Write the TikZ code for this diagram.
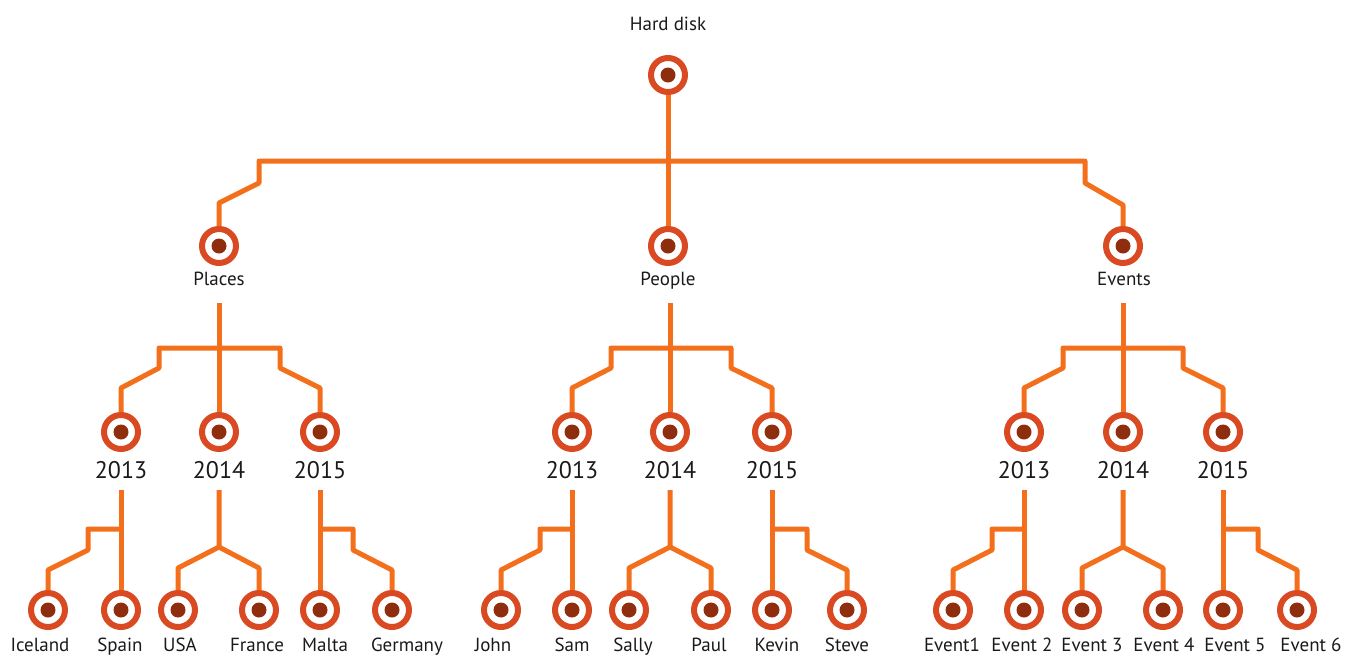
\documentclass[tikz,border=0pt]{standalone}
\usepackage{fontspec}
\setmainfont{PT Sans}
\definecolor{lineor}{HTML}{F36F1C}
\definecolor{ringor}{HTML}{DA4A22}
\definecolor{dotbr}{HTML}{8E2E0E}
\definecolor{txt}{HTML}{1A1A1A}
\tikzset{
  dotnode/.style={circle, draw=ringor, line width=6pt, minimum size=34pt, inner sep=0pt, fill=white,
    path picture={\fill[dotbr] (path picture bounding box.center) circle (7.5pt);}},
  conn/.style={draw=lineor, line width=5pt, line join=round},
  lbl/.style={anchor=base, inner sep=0pt, text=txt, font=\fontsize{19}{21}\selectfont},
  yr/.style={anchor=base, inner sep=0pt, text=txt, font=\fontsize{24}{26}\selectfont},
}
\begin{document}
\begin{tikzpicture}[x=1pt, y=-1pt]
\useasboundingbox (0,0) rectangle (1357,657);
% ---- level 0 and 1
\node[dotnode] (hd) at (668,75) {};
\node[lbl] (hdL) at (668,30) {Hard disk};
\node[dotnode] (plc) at (219,246) {};
\node[lbl] (plcL) at (219,285) {Places};
\node[dotnode] (ppl) at (668,246) {};
\node[lbl] (pplL) at (668,285) {People};
\node[dotnode] (evt) at (1123,246) {};
\node[lbl] (evtL) at (1124,285) {Events};
% ---- years
\foreach \n/\x/\t in {p13/121/2013, p14/219/2014, p15/320/2015,
                      q13/572/2013, q14/670/2014, q15/772/2015,
                      e13/1024/2013, e14/1123/2014, e15/1223/2015}{
  \node[dotnode] (\n) at (\x,432) {};
  \node[yr] (\n L) at (\x,478) {\t};
  \coordinate (\n s) at (\x,490);
}
% ---- leaves
\foreach \n/\x/\lx/\t in {
   pa/48/40/Iceland, pb/121/120/Spain, pc/178/180/USA, pd/259/257/France, pe/320/325/Malta, pf/392/407/Germany,
   qa/501/493/John, qb/572/572/Sam, qc/629/633/Sally, qd/711/709/Paul, qe/772/777/Kevin, qf/847/847/Steve,
   ea/953/952/Event1, eb/1024/1022/Event 2, ec/1082/1092/Event 3, ed/1163/1164/Event 4, ee/1223/1235/Event 5, ef/1297/1311/Event 6}{
  \node[dotnode] (\n) at (\x,610) {};
  \node[lbl] (\n L) at (\lx,651) {\t};
}
% ---- top connectors
\draw[conn] (hd.south) -- (ppl.north);
\draw[conn] (plc.north) -- (219,203) -- (259,183) -- (259,161) -- (1085,161) -- (1085,183) -- (1123,205) -- (evt.north);
% ---- level 2 connectors
\coordinate (plcs) at (219,303);
\coordinate (ppls) at (670,303);
\coordinate (evts) at (1123,303);
\draw[conn] (plcs) -- (p14.north);
\draw[conn] (p13.north) -- (121,388) -- (159,368) -- (159,348) -- (280,348) -- (280,368) -- (320,388) -- (p15.north);
\draw[conn] (ppls) -- (q14.north);
\draw[conn] (q13.north) -- (572,388) -- (611,368) -- (611,348) -- (731,348) -- (731,368) -- (772,388) -- (q15.north);
\draw[conn] (evts) -- (e14.north);
\draw[conn] (e13.north) -- (1024,388) -- (1063,368) -- (1063,348) -- (1183,348) -- (1183,368) -- (1223,388) -- (e15.north);
% ---- level 3 connectors: Places
\draw[conn] (p13s) -- (pb.north);
\draw[conn] (121,529) -- (88,529) -- (88,550) -- (48,570) -- (pa.north);
\draw[conn] (p14s) -- (219,547) -- (178,568) -- (pc.north);
\draw[conn] (219,547) -- (259,568) -- (pd.north);
\draw[conn] (p15s) -- (pe.north);
\draw[conn] (320,529) -- (353,529) -- (353,550) -- (392,570) -- (pf.north);
% ---- People
\draw[conn] (q13s) -- (qb.north);
\draw[conn] (572,529) -- (540,529) -- (540,550) -- (501,570) -- (qa.north);
\draw[conn] (q14s) -- (670,547) -- (629,568) -- (qc.north);
\draw[conn] (670,547) -- (711,568) -- (qd.north);
\draw[conn] (q15s) -- (qe.north);
\draw[conn] (772,529) -- (807,529) -- (807,550) -- (847,570) -- (qf.north);
% ---- Events
\draw[conn] (e13s) -- (eb.north);
\draw[conn] (1024,529) -- (992,529) -- (992,550) -- (953,570) -- (ea.north);
\draw[conn] (e14s) -- (1123,547) -- (1082,568) -- (ec.north);
\draw[conn] (1123,547) -- (1163,568) -- (ed.north);
\draw[conn] (e15s) -- (ee.north);
\draw[conn] (1223,529) -- (1258,529) -- (1258,550) -- (1297,570) -- (ef.north);
\end{tikzpicture}
\end{document}
